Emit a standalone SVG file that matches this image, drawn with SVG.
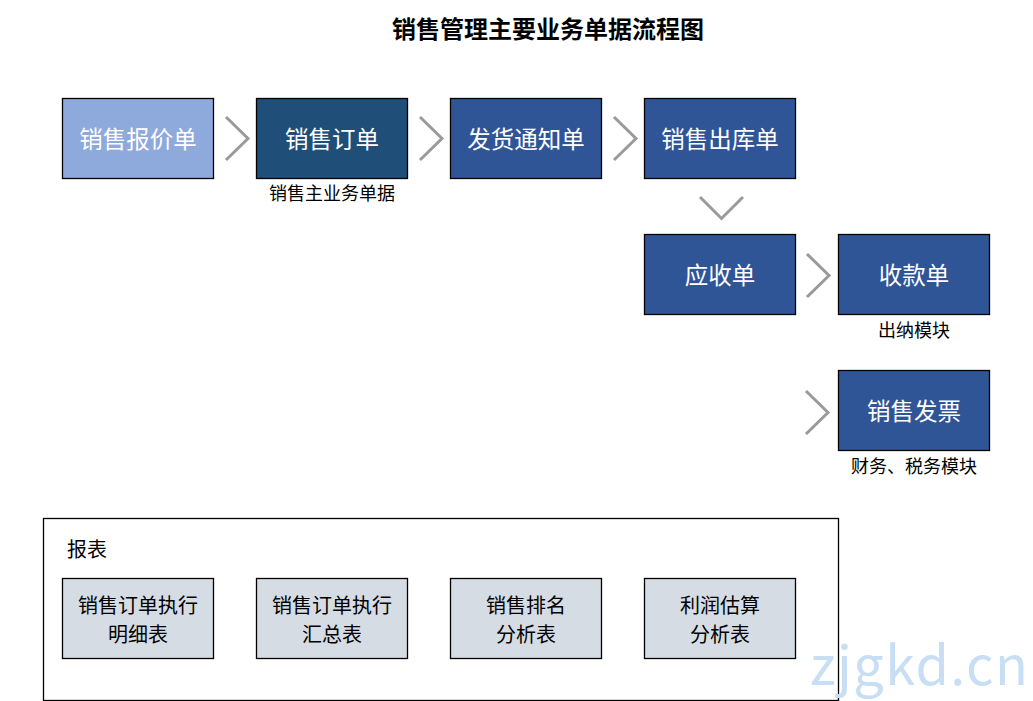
<svg xmlns="http://www.w3.org/2000/svg" width="1033" height="701" viewBox="0 0 1033 701">
<style>
text{font-family:"Noto Sans CJK SC","Liberation Sans",sans-serif;}
.b{stroke:#000;stroke-width:1.3;}
.lt{fill:#8EA9DB;}
.dk{fill:#1F4E79;}
.md{fill:#2F5597;}
.rp{fill:#D6DCE4;}
.wt{fill:#fff;font-size:23.5px;text-anchor:middle;}
.rt{fill:#000;font-size:20px;text-anchor:middle;}
.lb{fill:#000;font-size:18px;text-anchor:middle;}
.ch{fill:none;stroke:#9A9A9A;stroke-width:3;}
</style>
<rect width="1033" height="701" fill="#fff"/>
<text x="548" y="38" font-size="24" font-weight="bold" text-anchor="middle" fill="#000">销售管理主要业务单据流程图</text>
<g id="connectors">
<polyline class="ch" points="226,117 248,138.5 226,160"/>
<polyline class="ch" points="420,117 442,138.5 420,160"/>
<polyline class="ch" points="614,117 636,138.5 614,160"/>
<polyline class="ch" points="700,197 721.5,218.5 743,197"/>
<polyline class="ch" points="807,254 829,275.5 807,297"/>
<polyline class="ch" points="806,391 828,412.5 806,434"/>
</g>
<g id="n1"><rect class="b lt" x="62.5" y="98.5" width="151" height="80"/><text class="wt" x="138" y="148">销售报价单</text></g>
<g id="n2"><rect class="b dk" x="256.5" y="98.5" width="151" height="80"/><text class="wt" x="332" y="148">销售订单</text></g>
<g id="n3"><rect class="b md" x="450.5" y="98.5" width="151" height="80"/><text class="wt" x="526" y="148">发货通知单</text></g>
<g id="n4"><rect class="b md" x="644.5" y="98.5" width="151" height="80"/><text class="wt" x="720" y="148">销售出库单</text></g>
<g id="n5"><rect class="b md" x="644.5" y="234.5" width="151" height="80"/><text class="wt" x="720" y="284">应收单</text></g>
<g id="n6"><rect class="b md" x="838.5" y="234.5" width="151" height="80"/><text class="wt" x="914" y="284">收款单</text></g>
<g id="n7"><rect class="b md" x="838.5" y="370.5" width="151" height="80"/><text class="wt" x="914" y="420">销售发票</text></g>
<text class="lb" x="332" y="200">销售主业务单据</text>
<text class="lb" x="914" y="337" font-size="19">出纳模块</text>
<text class="lb" x="914" y="473" font-size="19">财务、税务模块</text>
<g id="reports">
<rect x="43.5" y="518.5" width="795" height="182" fill="none" stroke="#000" stroke-width="1.3"/>
<text x="67" y="557" font-size="20" fill="#000">报表</text>
</g>
<g id="r1"><rect class="b rp" x="62.5" y="578.5" width="151" height="80"/><text class="rt" x="138" y="613">销售订单执行</text><text class="rt" x="138" y="642">明细表</text></g>
<g id="r2"><rect class="b rp" x="256.5" y="578.5" width="151" height="80"/><text class="rt" x="332" y="613">销售订单执行</text><text class="rt" x="332" y="642">汇总表</text></g>
<g id="r3"><rect class="b rp" x="450.5" y="578.5" width="151" height="80"/><text class="rt" x="526" y="613">销售排名</text><text class="rt" x="526" y="642">分析表</text></g>
<g id="r4"><rect class="b rp" x="644.5" y="578.5" width="151" height="80"/><text class="rt" x="720" y="613">利润估算</text><text class="rt" x="720" y="642">分析表</text></g>
<text x="810" y="685" font-family="Liberation Sans,Arial,sans-serif" font-size="54" fill="#C8DEF5" textLength="218" lengthAdjust="spacing">zjgkd.cn</text>
</svg>
